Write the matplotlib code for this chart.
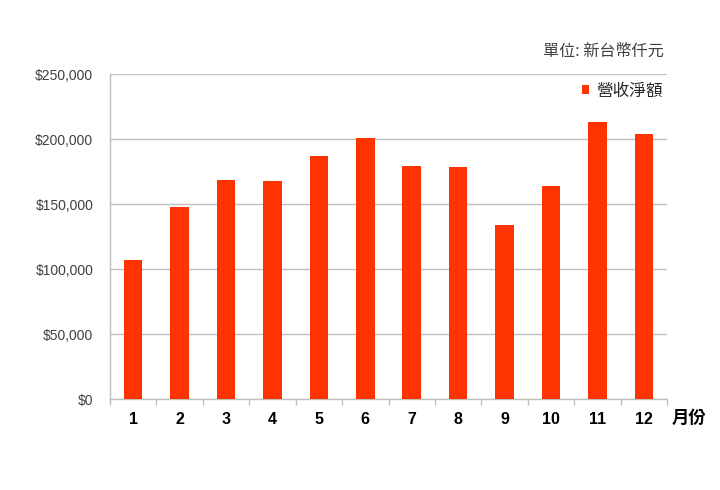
import numpy as np
import matplotlib.pyplot as plt
from matplotlib.ticker import FuncFormatter, FixedLocator

plt.rcParams['font.family'] = ['Liberation Sans', 'Noto Sans CJK TC', 'DejaVu Sans']

months = ['1', '2', '3', '4', '5', '6', '7', '8', '9', '10', '11', '12']
revenue = [107000, 148000, 168700, 167900, 187200, 201000,
           179500, 178700, 134100, 164100, 213300, 204100]
yticks = [0, 50000, 100000, 150000, 200000, 250000]

cjk = ['Noto Sans CJK TC', 'DejaVu Sans']
bar_color = '#FF3300'
grid_color = '#BFBFBF'

fig = plt.figure(figsize=(7.2, 4.9), dpi=100)
ax = fig.add_axes([110/720, 1-399.3/490, 557/720, 325/490])

x = np.arange(len(months))
bars = ax.bar(x, revenue, width=0.4, color=bar_color, label='營收淨額', zorder=3)

ax.set_xlim(-0.5, len(months) - 0.5)
ax.set_ylim(0, 250000)
ax.set_yticks(yticks)
ax.yaxis.set_major_formatter(FuncFormatter(lambda v, p: '${:,.0f}'.format(v)))
ax.yaxis.grid(True, color=grid_color, linewidth=1, zorder=0)
ax.tick_params(axis='y', length=0, pad=12, labelsize=10, labelcolor='#404040')

ax.set_xticks(x)
ax.set_xticklabels(months, fontsize=11.5, fontweight='bold', color='black')
ax.tick_params(axis='x', which='major', length=0, pad=9)
ax.xaxis.set_minor_locator(FixedLocator(np.arange(-0.5, len(months), 1.0)))
ax.tick_params(axis='x', which='minor', length=4, width=1, color=grid_color, direction='out')

for side in ['top', 'right']:
    ax.spines[side].set_visible(False)
for side in ['left', 'bottom']:
    ax.spines[side].set_color(grid_color)
    ax.spines[side].set_linewidth(1)

fig.text(689/720, 1-417.5/490, '月份', family=cjk, fontsize=12.5, fontweight='bold',
         ha='center', va='center', color='black')
fig.text(664/720, 1-51/490, '單位: 新台幣仟元', family=cjk, fontsize=11.6,
         ha='right', va='center', color='#404040')

leg = ax.legend(handles=[bars], loc='center right', bbox_to_anchor=(663/720, 1-91/490),
                bbox_transform=fig.transFigure, frameon=False, prop={'family': cjk, 'size': 12},
                handlelength=0.45, handleheight=0.45, handletextpad=0.45, borderpad=0,
                borderaxespad=0)
for t in leg.get_texts():
    t.set_color('#262626')

plt.savefig('out.png', dpi=100)
